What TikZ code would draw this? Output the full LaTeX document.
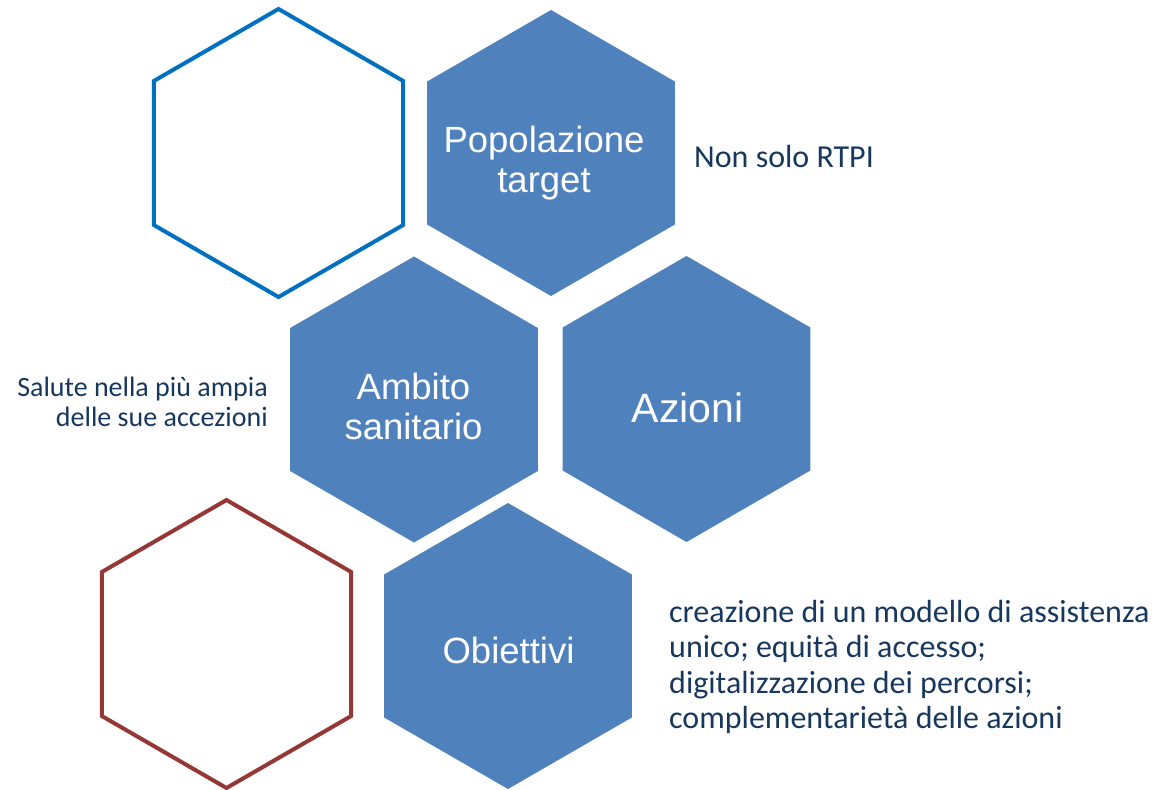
\documentclass[tikz,border=0pt]{standalone}
\usepackage{fontspec}
\setmainfont{Liberation Sans}
\newfontfamily\sidefont{Carlito}
\usetikzlibrary{shapes.geometric}

\definecolor{hexblue}{HTML}{4F81BD}
\definecolor{lineblue}{HTML}{0070C0}
\definecolor{linered}{HTML}{953735}
\definecolor{notecol}{HTML}{17375E}

\begin{document}
\begin{tikzpicture}[x=1pt,y=-1pt,
    hex/.style={regular polygon, regular polygon sides=6, shape border rotate=30,
      minimum size=286pt, inner sep=0pt, outer sep=0pt},
    hexfull/.style={hex, fill=hexblue},
    hexempty/.style={hex, minimum size=288pt, draw=#1, line width=4pt, fill=white},
    hextext/.style={text=white, align=center, inner sep=0pt,
      font=\fontsize{36.5}{40}\selectfont},
    note/.style={text=notecol, inner sep=0pt, font=\sidefont\fontsize{32}{35.2}\selectfont}]

  \useasboundingbox (0,0) rectangle (1157,790);

  % hexagons
  \node[hexempty=lineblue] (hblue) at (278.5,153) {};
  \node[hexfull] (hpop) at (551,153) {};
  \node[hexfull] (hamb) at (414,399.5) {};
  \node[hexfull] (hazi) at (686.5,399) {};
  \node[hexempty=linered] (hred) at (226.5,644) {};
  \node[hexfull] (hobi) at (508,646) {};

  % labels in the hexagons
  \node[hextext] (tpop) at (544,163) {Popolazione\\target};
  \node[hextext] (tamb) at (413.5,406) {Ambito\\sanitario};
  \node[hextext, font=\fontsize{41}{45}\selectfont] (tazi) at (687.5,408) {Azioni};
  \node[hextext] (tobi) at (508.5,650) {Obiettivi};

  % notes beside
  \node[note, anchor=west] (npop) at (694,157) {Non solo RTPI};
  \node[note, anchor=east, align=right, font=\sidefont\fontsize{28}{30}\selectfont]
    (namb) at (268,402) {Salute nella più ampia\\delle sue accezioni};
  \node[note, anchor=west, align=left] (nobi) at (669,667)
    {creazione di un modello di assistenza\\unico; equità di accesso;\\digitalizzazione dei percorsi;\\complementarietà delle azioni};
\end{tikzpicture}
\end{document}
